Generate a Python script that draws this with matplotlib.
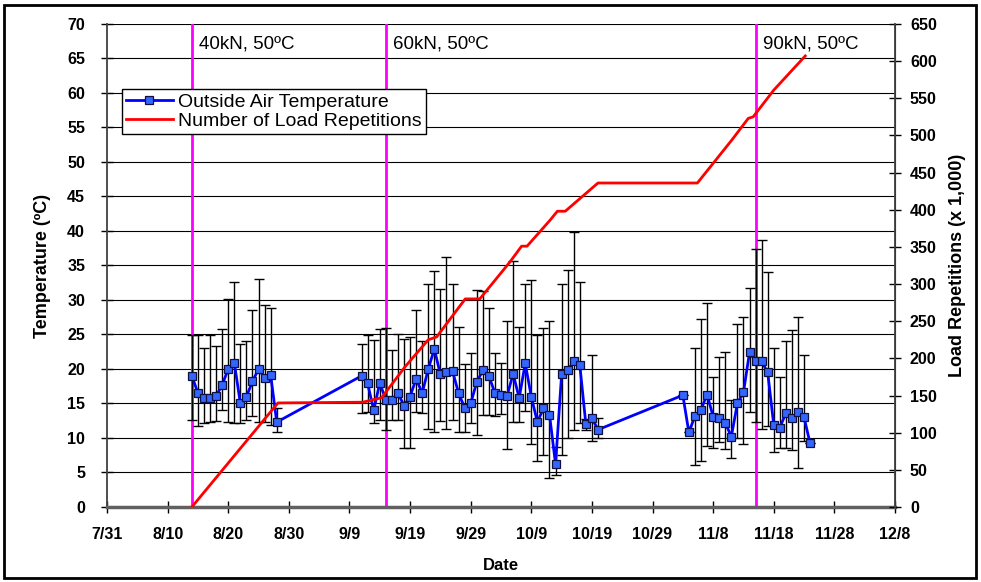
import numpy as np
import pandas as pd
import matplotlib
matplotlib.use('Agg')
import matplotlib.pyplot as plt
from matplotlib.patches import Rectangle

plt.rcParams['font.family'] = ['Liberation Sans', 'DejaVu Sans']

start = pd.Timestamp('2004-07-31')

# x axis tick labels (every 10 days)
tick_labels = ['7/31', '8/10', '8/20', '8/30', '9/9', '9/19', '9/29',
               '10/9', '10/19', '10/29', '11/8', '11/18', '11/28', '12/8']

# daily temperature readings, days counted from 7/31
temp_days = list(range(14, 29)) + list(range(42, 82)) + list(range(95, 117))
temp = [19.0, 16.5, 15.8, 15.8, 16.1, 17.7, 20.0, 20.9, 15.0, 16.0, 18.2, 20.0, 18.7, 19.1, 12.3,
        19.0, 17.9, 14.0, 18.0, 15.5, 15.5, 16.5, 14.7, 16.0, 18.6, 16.5, 20.0, 22.9, 19.2, 19.5,
        19.7, 16.5, 14.4, 15.0, 18.1, 19.8, 19.0, 16.5, 16.2, 16.1, 19.3, 15.8, 20.8, 16.0, 12.3,
        14.3, 13.4, 6.2, 19.2, 19.8, 21.1, 20.6, 12.0, 12.9, 11.2,
        16.2, 10.8, 13.2, 14.1, 16.3, 13.1, 12.9, 12.2, 10.2, 15.0, 16.6, 22.4, 21.1, 21.1, 19.5,
        11.9, 11.5, 13.6, 12.9, 13.7, 13.0, 9.2]
temp_hi = [24.9, 24.9, 23.0, 24.9, 23.3, 25.8, 30.2, 32.6, 23.6, 24.0, 28.5, 33.0, 29.3, 28.9, 14.4,
           23.6, 24.9, 24.2, 25.8, 26.0, 22.7, 25.1, 24.3, 24.7, 28.5, 24.1, 32.3, 34.2, 31.6, 36.2,
           32.3, 26.1, 20.7, 22.3, 31.5, 31.3, 28.8, 22.3, 20.8, 27.0, 35.6, 26.1, 32.3, 32.9, 24.9,
           26.0, 27.0, 8.7, 32.3, 34.3, 39.8, 32.6, 12.7, 22.0, 12.9,
           16.2, 10.8, 23.0, 27.3, 29.5, 18.8, 21.8, 22.4, 15.5, 26.5, 27.5, 31.8, 37.4, 38.7, 34.0,
           23.1, 18.8, 24.0, 25.6, 27.5, 22.0, 9.2]
temp_lo = [12.6, 11.8, 12.1, 12.3, 12.4, 14.0, 12.3, 12.2, 12.1, 12.6, 13.2, 12.3, 12.3, 11.9, 10.9,
           13.6, 13.7, 12.1, 12.6, 11.2, 12.6, 12.6, 8.5, 8.5, 13.7, 13.6, 11.3, 10.8, 12.4, 11.3,
           12.6, 10.8, 10.8, 12.1, 10.4, 13.3, 13.3, 13.2, 13.5, 8.4, 12.3, 12.3, 13.9, 9.1, 6.7,
           7.5, 4.2, 4.6, 7.5, 10.0, 11.2, 12.1, 11.2, 9.5, 10.0,
           16.2, 10.8, 6.1, 6.6, 8.9, 8.6, 9.4, 8.4, 7.1, 10.0, 9.1, 13.7, 12.3, 11.3, 11.8,
           7.9, 8.5, 8.5, 8.3, 5.6, 9.5, 9.2]

# cumulative load repetitions (x 1,000)
load_days = [14, 28.2, 42.2, 45.3, 49.2, 53.0, 54.4, 59.1, 61.5, 64.0, 66.5, 68.4, 69.3,
             73.1, 74.3, 75.6, 81.0, 97.4, 103.1, 105.8, 106.6, 110.0, 115.2]
load = [0, 140, 141, 147, 189, 225, 229, 280, 280, 305, 330, 351, 351,
        386, 398, 398, 436, 436, 494, 523, 525, 561, 607]

# load level changes
event_dates = ['8/14', '9/15', '11/15']
event_labels = ['40kN, 50ºC', '60kN, 50ºC', '90kN, 50ºC']


def to_date(s):
    return pd.Timestamp('2004/' + s)


tick_dates = [to_date(s) for s in tick_labels]
t_temp = start + pd.to_timedelta(temp_days, unit='D')
t_load = start + pd.to_timedelta(load_days, unit='D')
temp = np.array(temp)
yerr = [temp - np.array(temp_lo), np.array(temp_hi) - temp]

fig = plt.figure(figsize=(9.81, 5.82), dpi=100)
ax = fig.add_axes([0.1091, 0.1289, 0.8032, 0.8299])
ax2 = ax.twinx()

for d, lab in zip(event_dates, event_labels):
    ax.axvline(to_date(d), color='#FF00FF', lw=2, zorder=1)
    ax.annotate(lab, (to_date(d), 67.1), xytext=(7, 0), textcoords='offset pixels',
                fontsize=13.5, va='center', ha='left')

ax.errorbar(t_temp, temp, yerr=yerr, fmt='none', ecolor='black', elinewidth=1,
            capsize=3.5, capthick=1, zorder=2)
l1, = ax.plot(t_temp, temp, color='#0000FF', lw=2, marker='s', ms=6.3,
              mfc='#3366FF', mec='#101040', mew=0.9, zorder=3,
              label='Outside Air Temperature')
l2, = ax2.plot(t_load, load, color='#FF0000', lw=2, label='Number of Load Repetitions')

ax.set_xlim(tick_dates[0], tick_dates[-1])
ax.set_xticks(tick_dates)
ax.set_xticklabels(tick_labels)
ax.set_ylim(0, 70)
ax.set_yticks(np.arange(0, 71, 5))
ax2.set_ylim(0, 650)
ax2.set_yticks(np.arange(0, 651, 50))

ax.yaxis.grid(True, color='black', lw=0.8)
ax.set_axisbelow(True)

for a in (ax, ax2):
    a.spines['top'].set_visible(False)
ax.spines['left'].set_color('#404040')
ax.spines['left'].set_linewidth(1.3)
ax.spines['bottom'].set_color('#606060')
ax.spines['bottom'].set_linewidth(2.5)
ax2.spines['right'].set_color('#404040')
ax2.spines['right'].set_linewidth(1.3)
ax2.spines['left'].set_visible(False)
ax2.spines['bottom'].set_visible(False)

ax.tick_params(axis='x', direction='inout', length=8.6, width=1, labelsize=11.5, pad=10)
ax.tick_params(axis='y', direction='inout', length=8.6, width=1, labelsize=11.5, pad=11.5)
ax2.tick_params(axis='y', direction='inout', length=8.6, width=1, labelsize=11.5, pad=6.5)
for t in ax.get_xticklabels() + ax.get_yticklabels() + ax2.get_yticklabels():
    t.set_fontweight('bold')

ax.set_ylabel('Temperature (ºC)', fontsize=13, fontweight='bold')
ax.yaxis.set_label_coords(-0.071, 0.5)
ax2.set_ylabel('Load Repetitions (x 1,000)', fontsize=13, fontweight='bold')
ax2.yaxis.set_label_coords(1.068, 0.5)
ax.set_xlabel('Date', fontsize=12, fontweight='bold')
ax.xaxis.set_label_coords(0.5, -0.106)

leg = ax2.legend([l1, l2], [l1.get_label(), l2.get_label()], loc='upper left',
                 bbox_to_anchor=(0.019, 0.865), fancybox=False, edgecolor='black',
                 framealpha=1, borderaxespad=0, fontsize=14, handlelength=2.4,
                 borderpad=0.2, labelspacing=0.1, handletextpad=0.3)
leg.get_frame().set_linewidth(1)

fig.patches.append(Rectangle((0.004, 0.007), 0.991, 0.984, transform=fig.transFigure,
                             fill=False, ec='black', lw=2))

fig.savefig('out.png', dpi=100)
